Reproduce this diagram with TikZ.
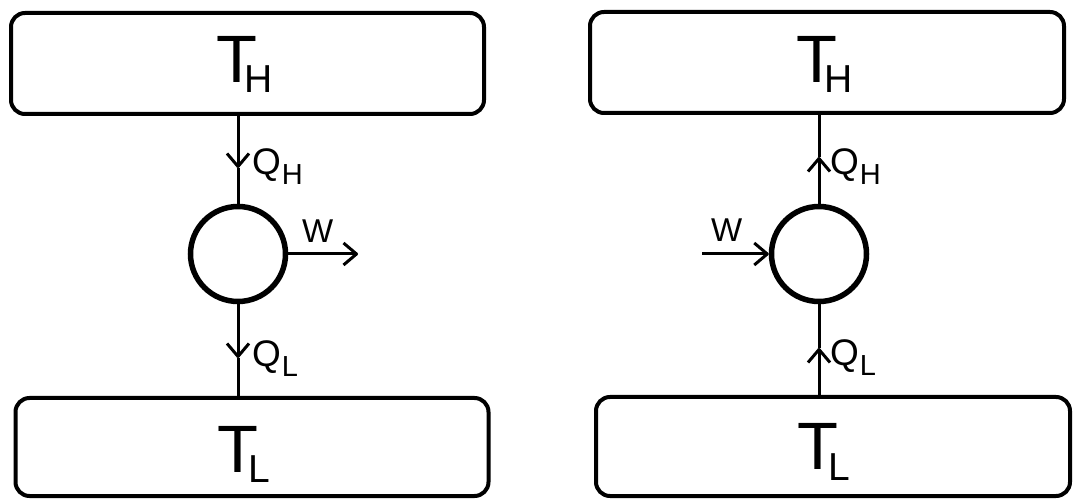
\documentclass[tikz,border=0pt]{standalone}
\usepackage{fontspec}
\setmainfont{Liberation Sans}
\usetikzlibrary{arrows.meta}
\newcommand{\Tsub}[2]{{\fontsize{67}{67}\selectfont T}\kern#2\raisebox{-10pt}{\fontsize{39}{39}\selectfont #1}}
\newcommand{\Qsub}[1]{{\fontsize{37}{37}\selectfont Q}\kern1pt\raisebox{-10pt}{\fontsize{29}{29}\selectfont #1}}
\begin{document}
\begin{tikzpicture}[x=1pt,y=-1pt,
 res/.style={draw, line width=4pt, rounded corners=14pt, minimum width=473pt, minimum height=101pt, inner sep=0pt},
 eng/.style={draw, circle, line width=5.5pt, minimum size=95pt, inner sep=0pt},
 flow/.style={line width=3pt},
 tip/.style={-{Straight Barb[length=13pt,width=22pt,line join=round]}},
 txt/.style={anchor=base west, inner sep=0pt, outer sep=0pt},
 wtxt/.style={anchor=base west, inner sep=0pt, outer sep=0pt, font=\fontsize{33}{33}\selectfont},
]
\useasboundingbox (0,0) rectangle (1090,502);
% reservoirs
\node[res] (TH1) at (247.5,63.5) {};
\node[res, minimum height=98pt] (TL1) at (252,447) {};
\node[res, minimum width=474pt] (TH2) at (827,62.5) {};
\node[res, minimum width=474pt, minimum height=99pt] (TL2) at (833,446.5) {};
% engines
\node[eng] (E1) at (238,254) {};
\node[eng] (E2) at (819,254) {};
% reservoir labels
\node[txt] (tH1) at (216,83) {\Tsub{H}{-12pt}};
\node[txt] (tL1) at (217,472) {\Tsub{L}{-9pt}};
\node[txt] (tH2) at (796,83) {\Tsub{H}{-12pt}};
\node[txt] (tL2) at (797,470) {\Tsub{L}{-9pt}};
% flow labels
\node[txt] (qH1) at (252,175) {\Qsub{H}};
\node[txt] (qL1) at (252,367) {\Qsub{L}};
\node[wtxt] (W1) at (302,243) {W};
\node[txt] (qH2) at (830,175) {\Qsub{H}};
\node[txt] (qL2) at (830,366) {\Qsub{L}};
\node[wtxt] (W2) at (711,242) {W};
% left engine connectors
\coordinate (a1) at (238,168);
\coordinate (a2) at (238,358);
\coordinate (w1) at (358,254);
\draw[flow,tip] (TH1.south -| E1) -- (a1);
\draw[flow] (a1) -- (E1.north);
\draw[flow,tip] (E1.south) -- (a2);
\draw[flow] (a2) -- (TL1.north -| E1);
\draw[flow,tip] (E1.east) -- (w1);
% right engine connectors
\coordinate (b1) at (819,157);
\coordinate (b2) at (819,348);
\coordinate (w2) at (702,254);
\draw[flow,tip] (E2.north) -- (b1);
\draw[flow] (b1) -- (TH2.south -| E2);
\draw[flow,tip] (TL2.north -| E2) -- (b2);
\draw[flow] (b2) -- (E2.south);
\draw[flow,tip] (w2) -- (E2.west);
\end{tikzpicture}
\end{document}
